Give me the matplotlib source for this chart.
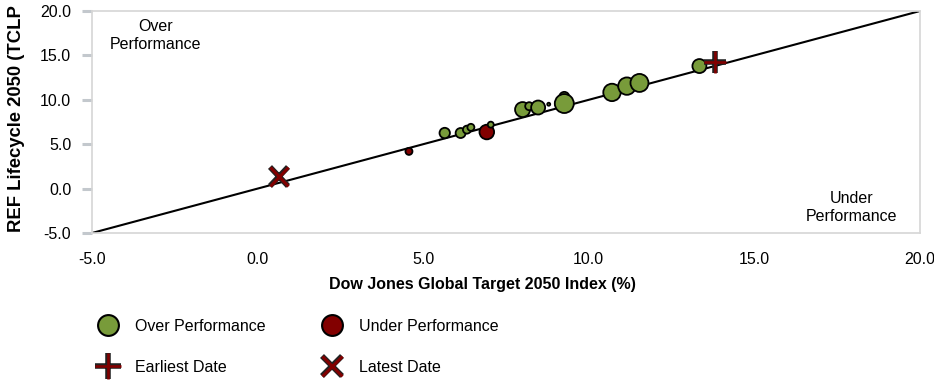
import matplotlib
matplotlib.use("Agg")
import matplotlib.pyplot as plt
from matplotlib.lines import Line2D
import matplotlib.patheffects as pe
import numpy as np

plt.rcParams["font.family"] = ["Liberation Sans", "DejaVu Sans"]
plt.rcParams["axes.unicode_minus"] = False

# Rolling returns (%): index vs. fund
index_ret = [4.57, 5.65, 6.13, 6.32, 6.44, 6.92, 7.04, 8.00, 8.20, 8.47, 8.79,
             9.26, 9.26, 10.70, 11.15, 11.53, 13.34]
fund_ret = [4.19, 6.26, 6.26, 6.64, 6.90, 6.37, 7.20, 8.90, 9.28, 9.13, 9.50,
            10.33, 9.58, 10.83, 11.54, 11.90, 13.80]
bubble_weight = [3.5, 5.2, 5.0, 4.0, 3.5, 7.3, 3.0, 7.5, 4.0, 7.0, 1.5,
                 5.0, 9.5, 8.7, 8.7, 9.0, 7.0]

earliest = (13.82, 14.30)
latest = (0.64, 1.36)

axis_min, axis_max = -5.0, 20.0
tick_values = [-5.0, 0.0, 5.0, 10.0, 15.0, 20.0]

GREEN = "#789b3a"
RED = "#820000"


def outlined():
    return [pe.Stroke(linewidth=4.0, foreground="#222222"), pe.Normal()]


fig = plt.figure(figsize=(9.34, 3.85), dpi=100)
ax = fig.add_axes([92 / 934, 1 - 233 / 385, 828 / 934, 222 / 385])

ax.set_xlim(axis_min, axis_max)
ax.set_ylim(axis_min, axis_max)

# Reference line y = x
ax.plot([axis_min, axis_max], [axis_min, axis_max], color="black", lw=1.5, zorder=2)

x = np.array(index_ret)
y = np.array(fund_ret)
w = np.array(bubble_weight)
colors = np.where(y > x, GREEN, RED)
sizes = (1.44 * w) ** 2
ax.scatter(x, y, s=sizes, c=list(colors), edgecolors="black", linewidths=1.3,
           zorder=3, clip_on=False)

# Earliest / latest markers: red cross with dark outline
ax.plot([earliest[0]], [earliest[1]], marker="+", markersize=16, mew=1.9,
        color=RED, linestyle="none", zorder=4, path_effects=outlined())
ax.plot([latest[0]], [latest[1]], marker="x", markersize=13, mew=2.2,
        color=RED, linestyle="none", zorder=4, path_effects=outlined())

ax.set_xticks(tick_values)
ax.set_yticks(tick_values)
ax.set_xticklabels([f"{v:.1f}" for v in tick_values])
ax.set_yticklabels([f"{v:.1f}" for v in tick_values])
ax.tick_params(axis="x", length=0, pad=14, labelsize=11.5, colors="black")
ax.tick_params(axis="y", length=7, width=2.2, color="#c3c8cd", pad=8,
               labelsize=11.5, labelcolor="black")
for sp in ax.spines.values():
    sp.set_color("#d6d6d6")
    sp.set_linewidth(1.2)

ax.set_xlabel("Dow Jones Global Target 2050 Index (%)", fontsize=11.5,
              fontweight="bold")
ax.xaxis.set_label_coords(0.471, -0.196)
fig.text(17 / 934, 1 - 232 / 385, "REF Lifecycle 2050 (TCLP", rotation=90,
         ha="center", va="bottom", fontsize=13.3, fontweight="bold")

ax.text(0.077, 0.89, "Over\nPerformance", transform=ax.transAxes, ha="center",
        va="center", fontsize=11.5, linespacing=1.3)
ax.text(0.917, 0.115, "Under\nPerformance", transform=ax.transAxes, ha="center",
        va="center", fontsize=11.5, linespacing=1.3)

# Legend
handles = [
    Line2D([], [], marker="o", linestyle="none", markersize=15,
           markerfacecolor=GREEN, markeredgecolor="black", markeredgewidth=1.5),
    Line2D([], [], marker="+", linestyle="none", markersize=19, mew=1.9, color=RED,
           path_effects=outlined()),
    Line2D([], [], marker="o", linestyle="none", markersize=15,
           markerfacecolor=RED, markeredgecolor="black", markeredgewidth=1.5),
    Line2D([], [], marker="x", linestyle="none", markersize=15, mew=2.2, color=RED,
           path_effects=outlined()),
]
labels = ["Over Performance", "Earliest Date", "Under Performance", "Latest Date"]
fig.legend(handles, labels, ncol=2, loc="upper left",
           bbox_to_anchor=(84 / 934, 1 - 311 / 385), frameon=False,
           fontsize=11.5, handlelength=2.0, handletextpad=0.7,
           labelspacing=1.6, columnspacing=3.15, borderpad=0)

fig.savefig("out.png", dpi=100)
